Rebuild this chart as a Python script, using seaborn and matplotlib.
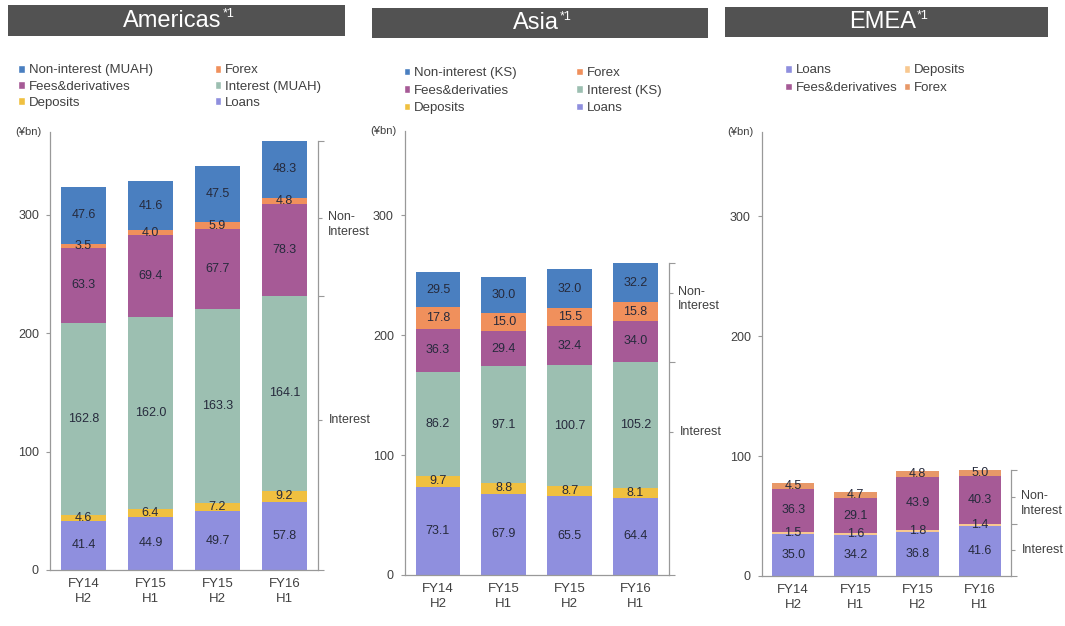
import matplotlib
matplotlib.use("Agg")
import numpy as np
import matplotlib.pyplot as plt
from matplotlib.patches import Rectangle, Patch
from matplotlib.text import Annotation
import seaborn as sns

# --- data (¥bn) ---
periods = ["FY14\nH2", "FY15\nH1", "FY15\nH2", "FY16\nH1"]

# Americas
am_loans = [41.4, 44.9, 49.7, 57.8]
am_deposits = [4.6, 6.4, 7.2, 9.2]
am_interest = [162.8, 162.0, 163.3, 164.1]
am_fees = [63.3, 69.4, 67.7, 78.3]
am_forex = [3.5, 4.0, 5.9, 4.8]
am_nonint = [47.6, 41.6, 47.5, 48.3]

# Asia
as_loans = [73.1, 67.9, 65.5, 64.4]
as_deposits = [9.7, 8.8, 8.7, 8.1]
as_interest = [86.2, 97.1, 100.7, 105.2]
as_fees = [36.3, 29.4, 32.4, 34.0]
as_forex = [17.8, 15.0, 15.5, 15.8]
as_nonint = [29.5, 30.0, 32.0, 32.2]

# EMEA
em_loans = [35.0, 34.2, 36.8, 41.6]
em_deposits = [1.5, 1.6, 1.8, 1.4]
em_fees = [36.3, 29.1, 43.9, 40.3]
em_forex = [4.5, 4.7, 4.8, 5.0]

# --- colours ---
C_LOANS = "#8f8fde"
C_DEP = "#f0c040"
C_INT = "#9cbfb1"
C_FEES = "#a65a96"
C_FX = "#f0905c"
C_NONINT = "#4a7fc0"
C_DEP_EM = "#f8c890"
C_FX_EM = "#e89868"
GREY = "#999999"
TXT = "#404040"

sns.set_theme(style="white")
plt.rcParams["font.family"] = ["Liberation Sans", "DejaVu Sans"]

panels = [
    dict(title="Americas", rect=[0.047, 0.0895, 0.2516, 0.700],
         bar=[0.0075, 0.9425, 0.3164, 0.0495],
         layers=[("Loans", am_loans, C_LOANS), ("Deposits", am_deposits, C_DEP),
                 ("Interest (MUAH)", am_interest, C_INT), ("Fees&derivatives", am_fees, C_FEES),
                 ("Forex", am_forex, C_FX), ("Non-interest (MUAH)", am_nonint, C_NONINT)],
         n_interest=3, legend_order=[5, 3, 1, 4, 2, 0],
         legend_at=(0.017, 0.897), colspace=4.7, rowspace=0.32,
         label_y=(127, 297)),
    dict(title="Asia", rect=[0.3803, 0.0815, 0.2474, 0.709],
         bar=[0.3493, 0.939, 0.3155, 0.048],
         layers=[("Loans", as_loans, C_LOANS), ("Deposits", as_deposits, C_DEP),
                 ("Interest (KS)", as_interest, C_INT), ("Fees&derivaties", as_fees, C_FEES),
                 ("Forex", as_forex, C_FX), ("Non-interest (KS)", as_nonint, C_NONINT)],
         n_interest=3, legend_order=[5, 3, 1, 4, 2, 0],
         legend_at=(0.379, 0.893), colspace=4.5, rowspace=0.42,
         label_y=(119, 235)),
    dict(title="EMEA", rect=[0.7155, 0.0799, 0.2338, 0.709],
         bar=[0.6808, 0.9409, 0.3033, 0.048],
         layers=[("Loans", em_loans, C_LOANS), ("Deposits", em_deposits, C_DEP_EM),
                 ("Fees&derivatives", em_fees, C_FEES), ("Forex", em_forex, C_FX_EM)],
         n_interest=2, legend_order=[0, 2, 1, 3],
         legend_at=(0.737, 0.897), colspace=0.5, rowspace=0.42,
         label_y=None),
]

fig = plt.figure(figsize=(10.65, 6.26), dpi=100)

for p in panels:
    ax = fig.add_axes(p["rect"])
    vals = np.array([l[1] for l in p["layers"]])
    cum = np.cumsum(vals, axis=0)

    # stacked bars: draw cumulative heights from the top layer down
    for i in reversed(range(len(p["layers"]))):
        sns.barplot(x=periods, y=cum[i], color=p["layers"][i][2], width=0.68,
                    saturation=1, errorbar=None, ax=ax, zorder=2,
                    edgecolor="none", linewidth=0)

    # segment values
    for i in range(len(p["layers"])):
        bottoms = cum[i] - vals[i]
        for j, v in enumerate(vals[i]):
            ax.text(j, bottoms[j] + v / 2, f"{v:.1f}", ha="center", va="center",
                    fontsize=9, color="#262a3c", zorder=3)

    ax.set_ylim(0, 370)
    ax.set_xlim(-0.5, len(periods) - 0.5)
    ax.set_yticks([0, 100, 200, 300])
    ax.set_xlabel("")
    ax.set_ylabel("")
    ax.tick_params(axis="y", left=True, length=3, width=0.8, color=GREY, labelsize=9,
                   labelcolor=TXT, pad=5)
    ax.tick_params(axis="x", length=0, labelsize=9.5, labelcolor=TXT, pad=6)
    for lbl in ax.get_xticklabels():
        lbl.set_linespacing(1.3)
    for s in ["top", "right"]:
        ax.spines[s].set_visible(False)
    for s in ["left", "bottom"]:
        ax.spines[s].set_color(GREY)
        ax.spines[s].set_linewidth(0.9)

    ax.annotate("(¥bn)", xy=(0, 1), xycoords="axes fraction", xytext=(-6, 0),
                textcoords="offset points", ha="right", va="center", fontsize=8, color=TXT)

    # right-hand bracket: interest / non-interest split of the latest bar
    top = cum[-1][-1]
    split = cum[p["n_interest"] - 1][-1]
    lab_int, lab_non = p["label_y"] or (split / 2, (split + top) / 2)
    ax2 = ax.twinx()
    ax2.set_ylim(ax.get_ylim())
    for s in ["top", "left", "bottom"]:
        ax2.spines[s].set_visible(False)
    ax2.spines["right"].set_bounds(0, top)
    ax2.spines["right"].set_color(GREY)
    ax2.spines["right"].set_linewidth(0.9)
    ax2.set_yticks([0, split, top])
    ax2.set_yticks([lab_int, lab_non], minor=True)
    ax2.tick_params(axis="y", which="both", length=4, width=0.8, color=GREY,
                    labelright=False)
    ax2.tick_params(axis="y", which="minor", length=3)
    trans = ax.get_yaxis_transform()
    ax.annotate("Interest", xy=(1, lab_int), xycoords=trans, xytext=(8, 0),
                textcoords="offset points", ha="left", va="center", fontsize=9, color=TXT)
    ax.annotate("Non-\nInterest", xy=(1, lab_non), xycoords=trans, xytext=(7, 5),
                textcoords="offset points", ha="left", va="top", fontsize=9, color=TXT,
                linespacing=1.25)

    # title bar with a small "*1" note marker
    x0, y0, w, h = p["bar"]
    fig.add_artist(Rectangle((x0, y0), w, h, transform=fig.transFigure,
                             facecolor="#525252", edgecolor="none", zorder=1))
    title = fig.text(x0 + w / 2 - 0.004, y0 + h / 2, p["title"], ha="center",
                     va="center", fontsize=17, color="white", zorder=2)
    note = Annotation("*1", xy=(1, 1), xycoords=title, xytext=(1, 1),
                      textcoords="offset points", ha="left", va="top", fontsize=9,
                      color="white", zorder=2)
    fig.add_artist(note)

    # legend
    handles = [Patch(facecolor=p["layers"][k][2], label=p["layers"][k][0])
               for k in p["legend_order"]]
    fig.legend(handles=handles, ncol=2, loc="upper left", bbox_to_anchor=p["legend_at"],
               bbox_transform=fig.transFigure, frameon=False, fontsize=9.5,
               handlelength=0.5, handleheight=0.5, handletextpad=0.3,
               labelspacing=p["rowspace"], columnspacing=p["colspace"], borderpad=0,
               borderaxespad=0, labelcolor=TXT)

fig.savefig("out.png", dpi=100)
